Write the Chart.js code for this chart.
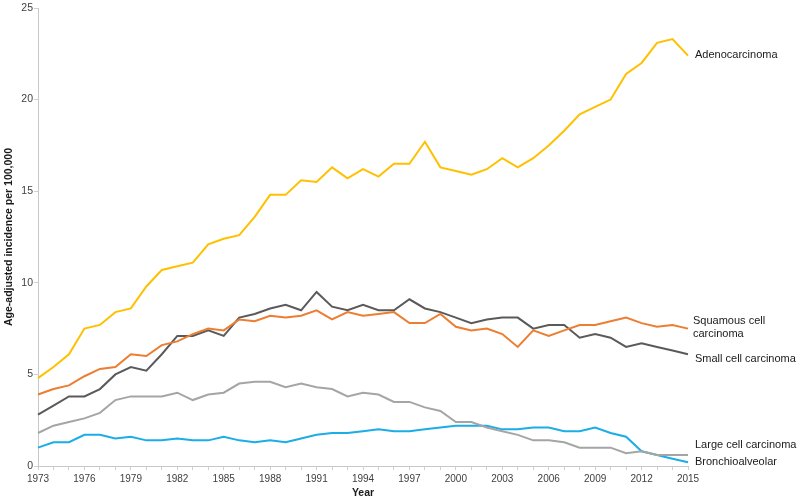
<!DOCTYPE html>
<html>
<head>
<meta charset="utf-8">
<script src="https://cdn.jsdelivr.net/npm/chart.js@4/dist/chart.umd.min.js"></script>
<style>
  html, body { margin: 0; padding: 0; background: #fff; }
  canvas { display: block; }
</style>
</head>
<body>
<canvas id="grafico" width="800" height="500"></canvas>
<script>
// dados
const anos = [];
for (let a = 1973; a <= 2015; a++) anos.push(String(a));

const adeno = [4.8, 5.4, 6.1, 7.5, 7.7, 8.4, 8.6, 9.8, 10.7, 10.9, 11.1, 12.1, 12.4, 12.6, 13.6,
  14.8, 14.8, 15.6, 15.5, 16.3, 15.7, 16.2, 15.8, 16.5, 16.5, 17.7, 16.3, 16.1, 15.9, 16.2, 16.8,
  16.3, 16.8, 17.5, 18.3, 19.2, 19.6, 20.0, 21.4, 22.0, 23.1, 23.3, 22.4];
const escamoso = [3.9, 4.2, 4.4, 4.9, 5.3, 5.4, 6.1, 6.0, 6.6, 6.8, 7.2, 7.5, 7.4, 8.0, 7.9,
  8.2, 8.1, 8.2, 8.5, 8.0, 8.4, 8.2, 8.3, 8.4, 7.8, 7.8, 8.3, 7.6, 7.4, 7.5, 7.2,
  6.5, 7.4, 7.1, 7.4, 7.7, 7.7, 7.9, 8.1, 7.8, 7.6, 7.7, 7.5];
const pequenas = [2.8, 3.3, 3.8, 3.8, 4.2, 5.0, 5.4, 5.2, 6.1, 7.1, 7.1, 7.4, 7.1, 8.1, 8.3,
  8.6, 8.8, 8.5, 9.5, 8.7, 8.5, 8.8, 8.5, 8.5, 9.1, 8.6, 8.4, 8.1, 7.8, 8.0, 8.1,
  8.1, 7.5, 7.7, 7.7, 7.0, 7.2, 7.0, 6.5, 6.7, 6.5, 6.3, 6.1];
const grandes = [1.8, 2.2, 2.4, 2.6, 2.9, 3.6, 3.8, 3.8, 3.8, 4.0, 3.6, 3.9, 4.0, 4.5, 4.6,
  4.6, 4.3, 4.5, 4.3, 4.2, 3.8, 4.0, 3.9, 3.5, 3.5, 3.2, 3.0, 2.4, 2.4, 2.1, 1.9,
  1.7, 1.4, 1.4, 1.3, 1.0, 1.0, 1.0, 0.7, 0.8, 0.6, 0.6, 0.6];
const bronquio = [1.0, 1.3, 1.3, 1.7, 1.7, 1.5, 1.6, 1.4, 1.4, 1.5, 1.4, 1.4, 1.6, 1.4, 1.3,
  1.4, 1.3, 1.5, 1.7, 1.8, 1.8, 1.9, 2.0, 1.9, 1.9, 2.0, 2.1, 2.2, 2.2, 2.2, 2.0,
  2.0, 2.1, 2.1, 1.9, 1.9, 2.1, 1.8, 1.6, 0.8, 0.6, 0.4, 0.2];

const nomes = ['Adenocarcinoma', ['Squamous cell', 'carcinoma'], 'Small cell carcinoma',
  'Large cell carcinoma', 'Bronchioalveolar'];
const ticksY = [0, 5, 10, 15, 20, 25];

const cores = ['#FFC000', '#ED7D31', '#5A5A5A', '#A5A5A5', '#1AADE6'];
const deslocY = [-1, -1, 5, -10, 0]; // ajuste dos rótulos à direita
const deslocX = [7, 5, 7, 7, 7];

const fonte = '"Liberation Sans", Arial, sans-serif';

// rótulos no fim de cada linha
const rotulosFim = {
  id: 'rotulosFim',
  afterDatasetsDraw(chart) {
    const ctx = chart.ctx;
    ctx.save();
    ctx.font = '11px ' + fonte;
    ctx.fillStyle = '#1a1a1a';
    ctx.textAlign = 'left';
    ctx.textBaseline = 'middle';
    chart.data.datasets.forEach((ds, i) => {
      const meta = chart.getDatasetMeta(i);
      const p = meta.data[meta.data.length - 1];
      const x = chart.chartArea.right + deslocX[i];
      const y = p.y + deslocY[i];
      const linhas = Array.isArray(nomes[i]) ? nomes[i] : [nomes[i]];
      linhas.forEach((t, k) => {
        ctx.fillText(t, x, y + (k - (linhas.length - 1) / 2) * 12.6);
      });
    });
    ctx.restore();
  }
};

const series = [adeno, escamoso, pequenas, grandes, bronquio];

new Chart(document.getElementById('grafico'), {
  type: 'line',
  data: {
    labels: anos,
    datasets: series.map((d, i) => ({
      label: Array.isArray(nomes[i]) ? nomes[i].join(' ') : nomes[i],
      data: d,
      borderColor: cores[i],
      backgroundColor: cores[i],
      borderWidth: 2,
      pointRadius: 0,
      tension: 0,
    })),
  },
  options: {
    responsive: false,
    animation: false,
    devicePixelRatio: 1,
    layout: { padding: { top: 8, right: 112, left: 0, bottom: 0 } },
    plugins: { legend: { display: false }, tooltip: { enabled: false } },
    scales: {
      x: {
        offset: false,
        grid: { drawOnChartArea: false, color: '#d0d0d0', tickLength: 4 },
        border: { color: '#c8c8c8' },
        ticks: {
          autoSkip: false,
          maxRotation: 0,
          padding: 3,
          color: '#404040',
          font: { family: fonte, size: 10 },
          callback: function(v, i) {
            return i % 3 === 0 ? anos[i] : '';
          },
        },
        title: {
          display: true,
          text: 'Year',
          color: '#1a1a1a',
          padding: { top: 0, bottom: 1 },
          font: { family: fonte, size: 10.5, weight: 'bold' },
        },
        afterFit: (s) => { s.height = 34; },
      },
      y: {
        min: 0,
        max: 25,
        afterBuildTicks: (s) => { s.ticks = ticksY.map(v => ({ value: v })); },
        grid: { drawOnChartArea: false, color: '#d0d0d0', tickLength: 4 },
        border: { color: '#c8c8c8' },
        ticks: {
          padding: 1,
          color: '#404040',
          font: { family: fonte, size: 10.5 },
        },
        title: {
          display: true,
          text: 'Age-adjusted incidence per 100,000',
          color: '#1a1a1a',
          padding: { top: 3, bottom: 0 },
          font: { family: fonte, size: 10.5, weight: 'bold' },
        },
        afterFit: (s) => { s.width = 38; },
      },
    },
  },
  plugins: [rotulosFim],
});
</script>
</body>
</html>
